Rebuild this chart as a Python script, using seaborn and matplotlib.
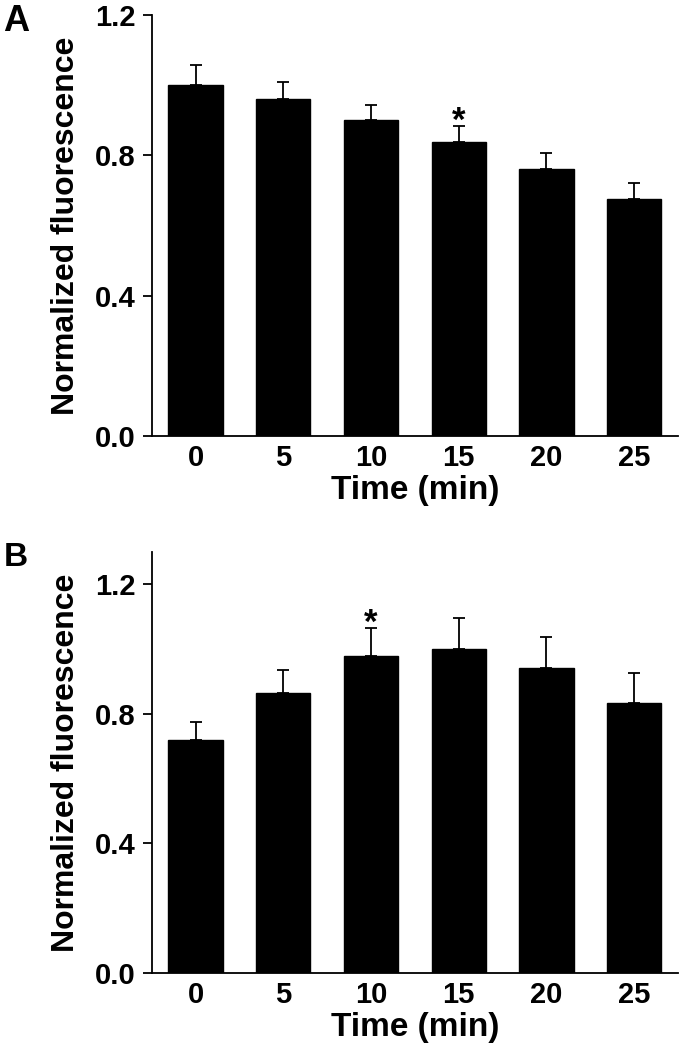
import numpy as np
import seaborn as sns
import matplotlib.pyplot as plt

# 数据：时间点 / 归一化荧光均值 / 上误差
times = ['0', '5', '10', '15', '20', '25']
mean_a = [1.00, 0.96, 0.90, 0.837, 0.760, 0.675]
err_a = [0.057, 0.050, 0.044, 0.048, 0.047, 0.045]
mean_b = [0.718, 0.864, 0.980, 1.000, 0.940, 0.834]
err_b = [0.056, 0.072, 0.085, 0.095, 0.098, 0.091]
star_a = 3   # 15 min
star_b = 2   # 10 min

sns.set_style('ticks')
plt.rcParams['font.family'] = ['Liberation Sans', 'DejaVu Sans']
plt.rcParams['font.weight'] = 'bold'
# 文字全部用纯黑
for k in ['text.color', 'axes.labelcolor', 'xtick.color', 'ytick.color', 'axes.edgecolor']:
    plt.rcParams[k] = 'black'

fig = plt.figure(figsize=(6.79, 10.5), dpi=100)
ax_a = fig.add_axes([0.2234, 0.5848, 0.7751, 0.4009])
ax_b = fig.add_axes([0.2234, 0.0736, 0.7751, 0.4007])


def draw_panel(ax, means, errs, ymax, star_idx):
    sns.barplot(x=times, y=means, order=times, color='black', edgecolor='black',
                width=0.62, errorbar=None, ax=ax, saturation=1)
    ax.errorbar(np.arange(len(times)), means, yerr=[np.zeros(len(errs)), errs],
                fmt='none', ecolor='black', elinewidth=1.3, capsize=4, capthick=1.3)
    ax.annotate('*', xy=(star_idx, means[star_idx] + errs[star_idx]),
                xytext=(0, -5), textcoords='offset pixels',
                ha='center', va='baseline', fontsize=25, fontweight='bold')
    ax.set_xlim(-0.5, 5.5)
    ax.set_ylim(0, ymax)
    ax.set_yticks([0.0, 0.4, 0.8, 1.2])
    ax.set_yticklabels(['0.0', '0.4', '0.8', '1.2'])
    ax.tick_params(axis='y', direction='out', length=6.3, width=1.3, pad=5.5, labelsize=21)
    ax.tick_params(axis='x', length=0, pad=6, labelsize=21)
    for lab in ax.get_xticklabels() + ax.get_yticklabels():
        lab.set_fontweight('bold')
    ax.set_xlabel('Time (min)', fontsize=24, fontweight='bold', labelpad=2)
    ax.set_ylabel('Normalized fluorescence', fontsize=23, fontweight='bold', labelpad=10)
    sns.despine(ax=ax)
    for s in ['left', 'bottom']:
        ax.spines[s].set_linewidth(1.3)


draw_panel(ax_a, mean_a, err_a, 1.2, star_a)
draw_panel(ax_b, mean_b, err_b, 1.3, star_b)

fig.text(0.005, 0.996, 'A', fontsize=26, fontweight='bold', va='top', ha='left')
fig.text(0.006, 0.484, 'B', fontsize=24, fontweight='bold', va='top', ha='left')

plt.savefig('out.png', dpi=100, facecolor='white')
